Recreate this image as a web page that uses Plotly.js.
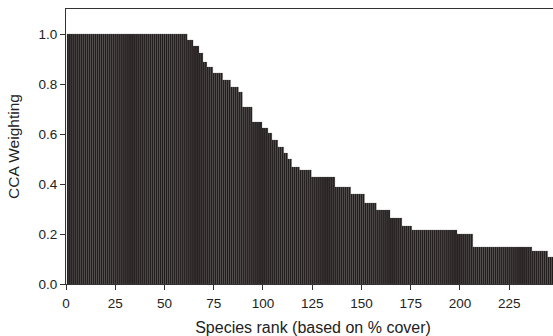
<!DOCTYPE html>
<html>
<head>
<meta charset="utf-8">
<script src="https://cdn.plot.ly/plotly-3.0.1.min.js"></script>
<style>
html,body{margin:0;padding:0;overflow:hidden;background:#fff;}
#chart{width:560px;height:336px;}
</style>
</head>
<body>
<div id="chart"></div>
<script>
// CCA weighting levels and the last species rank holding each level
var levels   = [1.0, 0.976, 0.952, 0.924, 0.888, 0.868, 0.844, 0.816, 0.788, 0.768, 0.708, 0.648, 0.624, 0.604, 0.576, 0.548, 0.524, 0.50, 0.468, 0.456, 0.428, 0.388, 0.36, 0.324, 0.296, 0.264, 0.232, 0.216, 0.20, 0.148, 0.132, 0.108];
var lastRank = [61,  64,    67,    69,    71,    74,    79,    83,    87,    89,    94,    99,    102,   104,   107,   110,   112,   114,  118,   124,   136,   144,   151,  157,   164,   170,   175,   198,   206,  236,   244,   250];
var xTickVals = [0, 25, 50, 75, 100, 125, 150, 175, 200, 225];
var xTickText = ["0", "25", "50", "75", "100", "125", "150", "175", "200", "225"];
var yTickVals = [0, 0.2, 0.4, 0.6, 0.8, 1.0];
var yTickText = ["0.0", "0.2", "0.4", "0.6", "0.8", "1.0"];

var ranks = [], weights = [];
var start = 1;
for (var i = 0; i < levels.length; i++) {
  for (var r = start; r <= lastRank[i]; r++) { ranks.push(r); weights.push(levels[i]); }
  start = lastRank[i] + 1;
}

var trace = {
  type: 'bar',
  x: ranks,
  y: weights,
  width: 1,
  marker: {color: '#221d1d', line: {width: 0.25, color: '#5e5858'}},
  hoverinfo: 'x+y'
};

var axisFont = {family: 'Liberation Sans, Arial, sans-serif', size: 13.5, color: '#222'};
var layout = {
  width: 560,
  height: 336,
  margin: {l: 66, r: 0, t: 9, b: 52},
  paper_bgcolor: '#fff',
  plot_bgcolor: '#fff',
  bargap: 0,
  showlegend: false,
  font: axisFont,
  xaxis: {
    range: [0, 250.8],
    tickmode: 'array',
    tickvals: xTickVals,
    ticktext: xTickText,
    ticks: 'outside',
    ticklen: 5,
    tickcolor: '#333',
    ticklabelstandoff: 2,
    showline: true,
    linecolor: '#333',
    linewidth: 1,
    mirror: true,
    showgrid: false,
    zeroline: false,
    tickfont: axisFont,
    automargin: false,
    title: {text: 'Species rank (based on % cover)', font: {family: 'Liberation Sans, Arial, sans-serif', size: 16, color: '#222'}, standoff: 11}
  },
  yaxis: {
    range: [0, 1.1],
    tickmode: 'array',
    tickvals: yTickVals,
    ticktext: yTickText,
    ticks: 'outside',
    ticklen: 5,
    tickcolor: '#333',
    showline: true,
    linecolor: '#333',
    linewidth: 1,
    mirror: true,
    showgrid: false,
    zeroline: false,
    tickfont: axisFont,
    automargin: false,
    title: {text: 'CCA Weighting', font: {family: 'Liberation Sans, Arial, sans-serif', size: 15.5, color: '#222'}, standoff: 15}
  }
};

Plotly.newPlot('chart', [trace], layout, {displayModeBar: false, staticPlot: true});
</script>
</body>
</html>
